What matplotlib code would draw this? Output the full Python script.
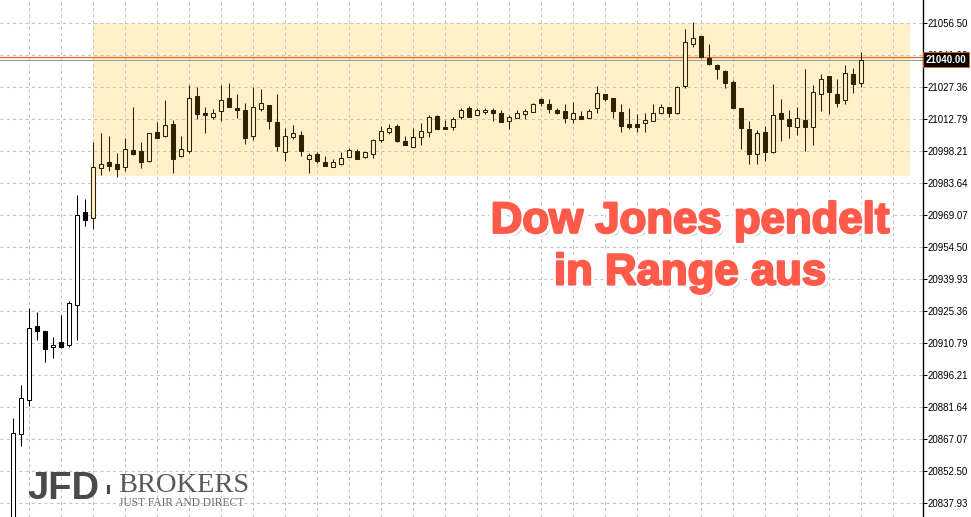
import matplotlib
matplotlib.use("Agg")
import matplotlib.pyplot as plt
import matplotlib.patheffects as pe
from matplotlib.patches import Rectangle
import numpy as np

# OHLC values, oldest first
opens = [20825.0, 20869.5, 20885.0, 20918.7, 20916.4, 20909.0, 20911.5, 20909.9, 20928.2, 20970.6,
         20967.7, 20990.5, 20993.2, 20992.4, 20990.9, 20998.7, 20998.3, 20993.9, 21006.9, 21005.3,
         21010.5, 20996.2, 20998.5, 21023.3, 21015.5, 21014.0, 21016.7, 21022.3, 21017.9, 21017.0,
         21005.3, 21017.6, 21019.3, 21011.4, 20998.0, 21004.9, 21005.6, 20994.6, 20997.0, 20993.2,
         20991.2, 20992.4, 20995.8, 20998.5, 20995.5, 20996.8, 21003.4, 21006.9, 21009.7, 21002.9,
         21000.3, 21004.9, 21006.9, 21014.3, 21009.1, 21009.4, 21014.0, 21017.8, 21014.6, 21016.2,
         21017.0, 21015.5, 21012.1, 21013.2, 21015.1, 21016.0, 21022.0, 21019.7, 21017.0, 21016.6,
         21012.8, 21014.4, 21013.5, 21017.8, 21024.2, 21022.3, 21016.2, 21010.5, 21010.5, 21011.0,
         21011.9, 21015.5, 21018.2, 21015.5, 21028.1, 21046.9, 21050.7, 21040.8, 21037.5, 21034.8,
         21029.9, 21017.8, 21008.4, 20996.8, 21006.9, 20997.8, 21015.5, 21012.8, 21009.4, 21012.5,
         21009.4, 21024.2, 21032.5, 21024.2, 21021.4, 21033.3, 21029.2]
highs = [20876.7, 20891.8, 20926.7, 20925.2, 20916.6, 20913.5, 20923.7, 20930.2, 20978.3, 20976.5,
         21002.3, 21006.4, 21005.2, 20997.3, 21004.4, 21018.2, 21002.3, 21006.4, 21011.4, 21021.6,
         21012.5, 21005.2, 21028.4, 21027.4, 21018.2, 21017.3, 21028.4, 21029.2, 21024.3, 21020.1,
         21027.4, 21026.6, 21019.3, 21024.2, 21009.0, 21010.2, 21007.5, 20997.6, 20998.0, 20996.1,
         20994.7, 20997.8, 20999.9, 20999.1, 20998.0, 21003.8, 21009.9, 21010.6, 21010.6, 21005.2,
         21008.7, 21011.0, 21014.7, 21014.7, 21012.5, 21014.0, 21018.1, 21018.8, 21017.8, 21017.8,
         21017.8, 21017.0, 21014.7, 21017.0, 21017.3, 21020.0, 21022.3, 21022.0, 21018.1, 21019.7,
         21020.5, 21016.7, 21017.3, 21027.9, 21024.3, 21022.6, 21019.7, 21017.8, 21015.2, 21015.5,
         21019.6, 21019.6, 21018.5, 21027.9, 21053.8, 21057.1, 21050.9, 21047.1, 21038.0, 21035.2,
         21030.7, 21017.8, 21012.0, 21007.9, 21009.7, 21028.9, 21022.0, 21017.0, 21018.2, 21035.5,
         21028.4, 21033.4, 21032.6, 21031.1, 21037.5, 21036.0, 21043.3]
lows = [20815.0, 20864.2, 20882.4, 20912.3, 20902.2, 20904.0, 20908.8, 20909.0, 20912.3, 20964.2,
        20963.0, 20987.4, 20989.4, 20986.6, 20989.4, 20996.5, 20990.5, 20993.5, 21004.4, 21004.9,
        20988.5, 20995.5, 20997.6, 21012.8, 21006.7, 21012.8, 21011.9, 21018.5, 21013.4, 21001.5,
        21003.4, 21016.7, 21008.2, 20998.5, 20993.8, 21004.0, 20996.1, 20988.2, 20992.7, 20991.7,
        20991.2, 20992.1, 20995.8, 20994.8, 20995.3, 20995.0, 21002.6, 21005.9, 21002.3, 21000.9,
        21000.0, 21001.1, 21004.9, 21008.5, 21008.5, 21007.9, 21012.8, 21014.0, 21014.6, 21015.2,
        21012.0, 21011.7, 21008.4, 21013.2, 21012.8, 21016.0, 21019.0, 21015.8, 21015.1, 21011.0,
        21011.0, 21012.8, 21013.2, 21015.5, 21021.3, 21013.2, 21007.1, 21008.2, 21007.1, 21007.1,
        21011.9, 21015.2, 21014.0, 21015.2, 21027.2, 21045.8, 21040.8, 21037.4, 21031.0, 21027.2,
        21018.1, 20999.1, 20992.3, 20992.3, 20993.8, 20997.3, 21003.0, 21004.1, 21005.6, 20998.5,
        21001.1, 21016.7, 21015.2, 21018.5, 21019.7, 21024.6, 21027.6]
closes = [20869.8, 20885.8, 20917.6, 20916.5, 20908.1, 20909.9, 20909.0, 20929.0, 20969.2, 20966.9,
          20991.2, 20992.3, 20991.7, 20990.3, 20999.1, 20997.1, 20993.5, 21006.4, 21004.4, 21010.1,
          20994.8, 20999.1, 21022.3, 21015.1, 21014.9, 21015.5, 21021.6, 21018.5, 21017.2, 21004.4,
          21018.2, 21020.1, 21012.1, 21000.8, 21005.2, 21006.4, 20998.5, 20996.5, 20993.9, 20991.7,
          20993.2, 20995.0, 20998.8, 20994.8, 20997.8, 21003.4, 21007.6, 21009.0, 21003.0, 21000.9,
          21004.9, 21007.5, 21013.7, 21008.5, 21008.5, 21012.8, 21017.0, 21014.0, 21017.0, 21017.0,
          21015.5, 21011.7, 21013.7, 21015.5, 21016.6, 21019.7, 21020.3, 21017.5, 21015.8, 21013.5,
          21015.5, 21012.8, 21016.7, 21024.6, 21021.9, 21016.7, 21009.9, 21009.4, 21009.4, 21012.3,
          21015.5, 21018.5, 21015.8, 21027.4, 21047.8, 21049.7, 21041.3, 21037.8, 21035.7, 21029.2,
          21018.1, 21009.0, 20996.8, 21006.4, 20997.8, 21014.6, 21013.1, 21009.9, 21013.2, 21009.4,
          21025.1, 21031.0, 21025.3, 21020.3, 21033.7, 21028.7, 21040.0]

tick_labels = ["20837.93", "20852.50", "20867.07", "20881.64", "20896.21", "20910.79",
               "20925.36", "20939.93", "20954.50", "20969.07", "20983.64", "20998.21",
               "21012.79", "21027.36", "21041.93", "21056.50"]
tick_prices = [float(t) for t in tick_labels]

range_low, range_high = 20987.0, 21056.5
range_start = 10          # first bar inside the range box
bid, ask = 21040.0, 21041.0

fig = plt.figure(figsize=(9.71, 5.17), dpi=100)
ax = fig.add_axes([0, 0, 922.5 / 971, 1])
ax.set_xlim(-1.66, 113.65)
ax.set_ylim(20831.7, 21067.1)

# range box
ax.add_patch(Rectangle((range_start - 0.05, range_low), 112.2 - range_start, range_high - range_low,
                       facecolor="#fff0c9", edgecolor="none", zorder=0))

# grid
grid_kw = dict(color="#c4c4c4", lw=0.75, linestyle=(0, (3, 3)), zorder=1)
for p in tick_prices:
    ax.axhline(p, **grid_kw)
for gx in range(2, 114, 4):
    ax.axvline(gx, **grid_kw)

# bid / ask lines
ax.axhline(bid, color="#a0a0a0", lw=0.8, zorder=2)
ax.axhline(ask, color="#ea6420", lw=0.9, zorder=2)

# candles
w = 0.55
for i in range(len(opens)):
    o, h, l, c = opens[i], highs[i], lows[i], closes[i]
    inside = i >= range_start
    dark = "#2e2300" if inside else "black"
    light = "#fff0c9" if inside else "white"
    ax.vlines(i, l, h, color=dark, lw=0.75, zorder=3)
    bottom = min(o, c)
    height = max(abs(c - o), 0.35)
    ax.add_patch(Rectangle((i - w / 2, bottom), w, height,
                           facecolor=light if c >= o else dark,
                           edgecolor=dark, lw=0.75, zorder=4))

# right price axis
for s in ["top", "left", "bottom"]:
    ax.spines[s].set_visible(False)
ax.spines["right"].set_color("black")
ax.spines["right"].set_linewidth(1)
ax.set_xticks([])
ax.yaxis.tick_right()
ax.set_yticks(tick_prices)
ax.set_yticklabels(tick_labels, fontsize=7, family="Liberation Sans")
ax.tick_params(axis="y", length=3, width=0.7, pad=1, colors="black")

# current price label (covers the 21041.93 tick label like in the terminal)
ax.text(1.0035, bid, "21040.00", transform=ax.get_yaxis_transform(), color="white",
        fontsize=7, family="Liberation Sans", fontweight="bold", va="center", ha="left", zorder=10,
        bbox=dict(boxstyle="square,pad=0.25", facecolor="black", edgecolor="#ea6420", lw=0.6),
        clip_on=False)

# headline
effects = [pe.SimplePatchShadow(offset=(2.5, -2.5), shadow_rgbFace="#888888", alpha=0.6),
           pe.withStroke(linewidth=6, foreground="white"),
           pe.withStroke(linewidth=1.6, foreground="#ff5a4a")]
for txt, yy in [("Dow Jones pendelt", 0.572), ("in Range aus", 0.472)]:
    fig.text(690 / 971, yy, txt, ha="center", va="center", fontsize=31.5, fontweight="bold",
             family="Liberation Sans", color="#ff5a4a", path_effects=effects, zorder=20)

# logo
fig.text(27 / 971, 1 - 489 / 517, "JFD", fontsize=27.5, fontweight="bold", family="Liberation Sans",
         color="#4a4a4d", ha="left", va="center")
fig.add_artist(Rectangle((107 / 971, 1 - 494 / 517), 2.5 / 971, 9 / 517,
                         transform=fig.transFigure, facecolor="#4a4a4d", edgecolor="none"))
fig.text(118 / 971, 1 - 485 / 517, "BROKERS", fontsize=20.5, family="Liberation Serif",
         color="#58585a", ha="left", va="center")
fig.text(119 / 971, 1 - 502.5 / 517, "JUST FAIR AND DIRECT", fontsize=8.3, family="Liberation Serif",
         color="#6a6a6c", ha="left", va="center")

fig.savefig("out.png", dpi=100)
